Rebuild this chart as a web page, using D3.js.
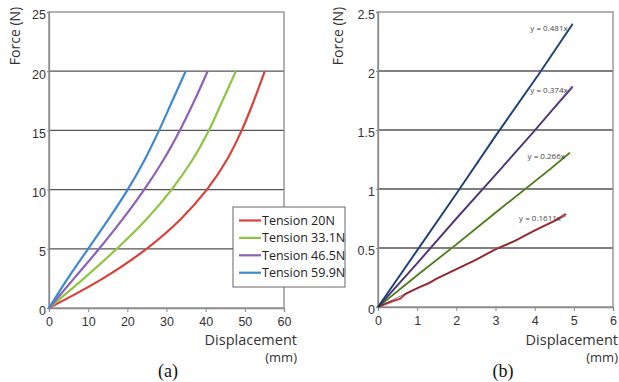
<!DOCTYPE html>
<html>
<head>
<meta charset="utf-8">
<script src="https://cdn.jsdelivr.net/npm/d3@7"></script>
<style>
  body { margin: 0; background: #fff; }
  svg { display: block; font-family: "Open Sans", "DejaVu Sans", sans-serif; }
  .tick text { fill: #333; }
</style>
</head>
<body>
<svg id="chart" width="619" height="382"></svg>
<script>
// (a) force vs displacement at several tensions
const tensionNames = ["Tension 20N", "Tension 33.1N", "Tension 46.5N", "Tension 59.9N"];
const tensionColors = ["#d9413b", "#8cc540", "#8b62b8", "#3f88d2"];

// force levels shared by the four curves, displacement read for each
const forceLevels = [0, 2.5, 5, 7.5, 10, 12.5, 15, 17.5, 20];
const dispRed = [0, 13.8, 24.9, 33.6, 40.3, 45.4, 49.2, 52.3, 55.1];
const dispGreen = [0, 8.9, 17.3, 24.9, 31.3, 36.6, 40.8, 44.3, 47.7];
const dispPurple = [0, 6.4, 12.8, 18.8, 24.3, 29.2, 33.4, 37.1, 40.5];
const dispBlue = [0, 4.8, 10.0, 15.2, 20.1, 24.4, 28.1, 31.5, 34.9];
const curvesA = [dispRed, dispGreen, dispPurple, dispBlue];
const ticksAX = [0, 10, 20, 30, 40, 50, 60];
const ticksAY = [0, 5, 10, 15, 20, 25];

// (b) small-displacement region with linear fits
const lineRed = [[0, 0], [0.3, 0.04], [0.57, 0.07], [0.7, 0.11], [0.82, 0.13], [1.08, 0.17], [1.3, 0.2], [1.5, 0.24], [2.06, 0.33], [2.5, 0.4], [3, 0.49], [3.5, 0.56], [4, 0.65], [4.5, 0.73], [4.8, 0.79]];
const lineGreen = [[0, 0], [1, 0.27], [2, 0.53], [3, 0.8], [3.72, 0.99], [4.4, 1.17], [4.9, 1.31]];
const linePurple = [[0, 0], [1, 0.37], [2, 0.75], [3, 1.12], [3.96, 1.48], [4.5, 1.69], [4.97, 1.87]];
const lineBlue = [[0, 0], [1, 0.48], [2, 0.96], [3, 1.45], [4.1, 1.97], [4.97, 2.4]];
const linesB = [lineRed, lineGreen, linePurple, lineBlue];
const colorsB = ["#c23538", "#74a833", "#654696", "#2a5597"];
const slopesB = [0.1611, 0.266, 0.374, 0.481];
const fitLabels = ["y = 0.1611x", "y = 0.266x", "y = 0.374x", "y = 0.481x"];
const ticksBX = [0, 1, 2, 3, 4, 5, 6];
const ticksBY = [0, 0.5, 1, 1.5, 2, 2.5];

const svg = d3.select("#chart");

function drawPanel({ left, right, top, bottom, xMax, yMax, xTicks, yTicks, yFormat }) {
  const x = d3.scaleLinear().domain([0, xMax]).range([left, right]);
  const y = d3.scaleLinear().domain([0, yMax]).range([bottom, top]);
  const g = svg.append("g");

  // grid lines
  g.append("g")
    .selectAll("line")
    .data(yTicks.filter((t) => t > 0 && t < yMax))
    .join("line")
    .attr("x1", left)
    .attr("x2", right)
    .attr("y1", (d) => y(d))
    .attr("y2", (d) => y(d))
    .attr("stroke", "#555")
    .attr("stroke-width", 1.3);

  // frame
  g.append("rect")
    .attr("x", left)
    .attr("y", top)
    .attr("width", right - left)
    .attr("height", bottom - top)
    .attr("fill", "none")
    .attr("stroke", "#8a8a8a")
    .attr("stroke-width", 1.3);

  const xAxis = g.append("g")
    .attr("transform", `translate(0,${bottom})`)
    .call(d3.axisBottom(x).tickValues(xTicks).tickSize(4).tickFormat(d3.format("d")));
  xAxis.select(".domain").attr("stroke", "#8a8a8a").attr("stroke-width", 1.3);
  xAxis.selectAll(".tick line").attr("stroke", "#8a8a8a");
  xAxis.selectAll("text").attr("font-size", 12.5).attr("dy", "0.9em");

  const yAxis = g.append("g")
    .attr("transform", `translate(${left},0)`)
    .call(d3.axisLeft(y).tickValues(yTicks).tickSize(2).tickPadding(1).tickFormat(yFormat));
  yAxis.select(".domain").attr("stroke", "#8a8a8a").attr("stroke-width", 1.3);
  yAxis.selectAll(".tick line").attr("stroke", "#8a8a8a");
  yAxis.selectAll("text").attr("font-size", 12.5).attr("dy", "0.55em");

  return { g, x, y };
}

function labels(panel, titleX, titleY, rightEdge, tag, tagX) {
  panel.g.append("text")
    .attr("transform", `translate(${titleX},${titleY}) rotate(-90)`)
    .attr("text-anchor", "middle")
    .attr("font-size", 14)
    .attr("fill", "#333")
    .text("Force (N)");
  panel.g.append("text")
    .attr("x", rightEdge)
    .attr("y", 345)
    .attr("text-anchor", "end")
    .attr("font-size", 14.5)
    .attr("fill", "#333")
    .text("Displacement");
  panel.g.append("text")
    .attr("x", rightEdge)
    .attr("y", 362)
    .attr("text-anchor", "end")
    .attr("font-size", 13)
    .attr("fill", "#333")
    .text("(mm)");
  panel.g.append("text")
    .attr("x", tagX)
    .attr("y", 377)
    .attr("text-anchor", "middle")
    .attr("font-family", "'Liberation Serif', 'DejaVu Serif', serif")
    .attr("font-size", 18)
    .attr("fill", "#111")
    .text(tag);
}

// panel (a)
const pa = drawPanel({
  left: 49, right: 284, top: 12, bottom: 308,
  xMax: 60, yMax: 25, xTicks: ticksAX, yTicks: ticksAY, yFormat: d3.format("d")
});
const lineA = d3.line()
  .x((d) => pa.x(d))
  .y((d, i) => pa.y(forceLevels[i]))
  .curve(d3.curveCatmullRom.alpha(0.5));
pa.g.append("g")
  .selectAll("path")
  .data(curvesA)
  .join("path")
  .attr("d", lineA)
  .attr("fill", "none")
  .attr("stroke", (d, i) => tensionColors[i])
  .attr("stroke-width", 2.2);
labels(pa, 20, 36, 297, "(a)", 168);

// legend
const legend = svg.append("g").attr("transform", "translate(233,207)");
legend.append("rect")
  .attr("width", 112)
  .attr("height", 80)
  .attr("fill", "#fff")
  .attr("stroke", "#666")
  .attr("stroke-width", 1);
const items = legend.selectAll("g.item")
  .data(tensionNames)
  .join("g")
  .attr("class", "item")
  .attr("transform", (d, i) => `translate(0,${13.5 + i * 17.4})`);
items.append("line")
  .attr("x1", 6).attr("x2", 28)
  .attr("stroke", (d, i) => tensionColors[i])
  .attr("stroke-width", 2.2);
items.append("text")
  .attr("x", 29)
  .attr("dy", "0.35em")
  .attr("font-size", 12.5)
  .attr("fill", "#222")
  .text((d) => d);

// panel (b)
const pb = drawPanel({
  left: 378, right: 613, top: 12, bottom: 307,
  xMax: 6, yMax: 2.5, xTicks: ticksBX, yTicks: ticksBY, yFormat: (d) => String(d)
});
const lineB = d3.line().x((d) => pb.x(d[0])).y((d) => pb.y(d[1]));
pb.g.append("g")
  .selectAll("path")
  .data(linesB)
  .join("path")
  .attr("d", lineB)
  .attr("fill", "none")
  .attr("stroke", (d, i) => colorsB[i])
  .attr("stroke-width", 2);
// fitted trend lines y = kx over each series' range
pb.g.append("g")
  .selectAll("line")
  .data(linesB)
  .join("line")
  .attr("x1", pb.x(0))
  .attr("y1", pb.y(0))
  .attr("x2", (d) => pb.x(d[d.length - 1][0]))
  .attr("y2", (d, i) => pb.y(slopesB[i] * d[d.length - 1][0]))
  .attr("stroke", "#1a1a2a")
  .attr("stroke-width", 0.8)
  .attr("opacity", 0.7);
pb.g.append("g")
  .selectAll("text")
  .data(linesB)
  .join("text")
  .attr("x", (d) => pb.x(d[d.length - 1][0]) - 5)
  .attr("y", (d) => pb.y(d[d.length - 1][1]) + 7)
  .attr("text-anchor", "end")
  .attr("font-size", 8)
  .attr("fill", "#444")
  .text((d, i) => fitLabels[i]);
labels(pb, 343, 36, 618, "(b)", 503);
</script>
</body>
</html>
